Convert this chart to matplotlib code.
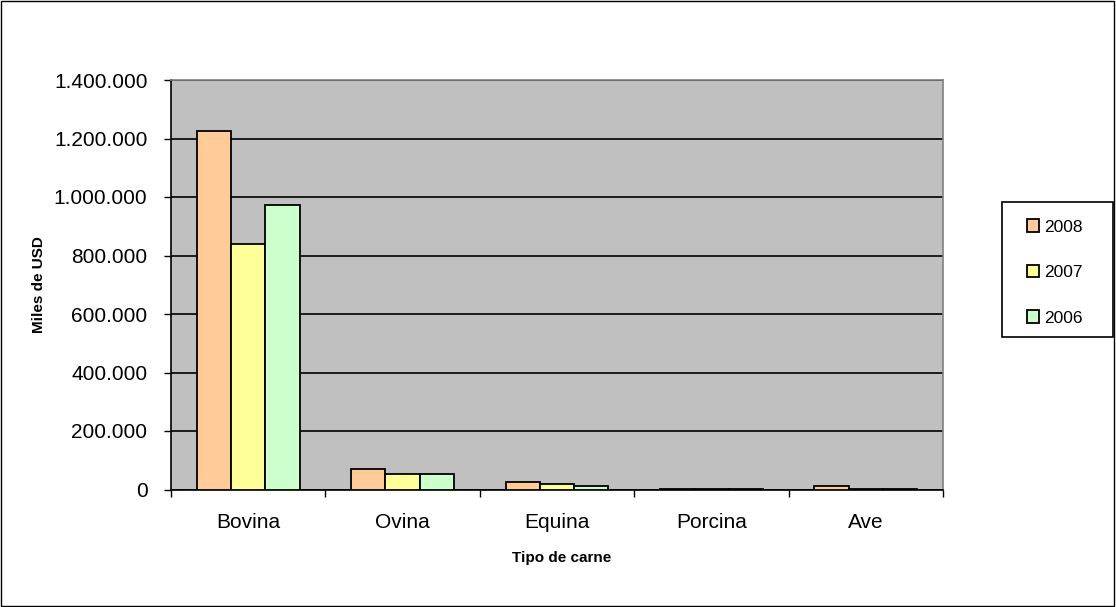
import matplotlib
matplotlib.use("Agg")
import matplotlib.pyplot as plt
import numpy as np
from matplotlib.ticker import FuncFormatter
from matplotlib.patches import Rectangle

plt.rcParams['font.family'] = ['Liberation Sans', 'DejaVu Sans']

categories = ["Bovina", "Ovina", "Equina", "Porcina", "Ave"]
series_names = ["2008", "2007", "2006"]
v2008 = [1226000, 70000, 26000, 3000, 13000]
v2007 = [838000, 53000, 19000, 2500, 2500]
v2006 = [972000, 53000, 13500, 2500, 2500]
colors = ["#FFCC99", "#FFFF99", "#CCFFCC"]

W, H = 1116, 607
fig = plt.figure(figsize=(W / 100, H / 100), dpi=100)
fig.patch.set_facecolor("white")
# outer chart border
fig.add_artist(Rectangle((0.001, 0.002), 0.997, 0.996, transform=fig.transFigure,
                         fill=False, edgecolor="black", linewidth=1.0))

x0, x1, ytop, ybot = 171, 943, 80, 489.5
ax = fig.add_axes([x0 / W, 1 - ybot / H, (x1 - x0) / W, (ybot - ytop) / H])
ax.set_facecolor("#C0C0C0")

x = np.arange(len(categories))
width = (1 / 1.5) / 3
for i, (vals, c, name) in enumerate(zip([v2008, v2007, v2006], colors, series_names)):
    ax.bar(x + (i - 1) * width, vals, width, color=c, edgecolor="black",
           linewidth=1.3, label=name, zorder=3)

ax.set_xlim(-0.5, len(categories) - 0.5)
ax.set_ylim(0, 1400000)
ax.set_yticks(np.arange(0, 1400001, 200000))
ax.yaxis.set_major_formatter(FuncFormatter(lambda v, p: f"{int(v):,}".replace(",", ".")))
ax.yaxis.grid(True, color="black", linewidth=1.2, zorder=1)
ax.set_axisbelow(True)

ax.set_xticks(x)
ax.set_xticklabels(categories)
ax.set_xticks(np.arange(-0.5, len(categories), 1), minor=True)
ax.tick_params(axis="x", which="major", length=0, labelsize=15, pad=17)
ax.tick_params(axis="x", which="minor", length=5, width=1, direction="out")
ax.tick_params(axis="y", length=5, width=1, labelsize=15, pad=12)

for s in ["left", "bottom"]:
    ax.spines[s].set_color("black")
    ax.spines[s].set_linewidth(1.2)
for s in ["top", "right"]:
    ax.spines[s].set_color("#808080")
    ax.spines[s].set_linewidth(1.2)

ax.set_ylabel("Miles de USD", fontsize=11, fontweight="bold")
ax.set_xlabel("Tipo de carne", fontsize=11, fontweight="bold")
ax.yaxis.label.set_va("center")
ax.xaxis.label.set_va("center")
ax.yaxis.set_label_coords((39 - x0) / (x1 - x0), 0.5 + ((ybot + ytop) / 2 - 285) / (ybot - ytop))
ax.xaxis.set_label_coords(0.5 + (562 - (x0 + x1) / 2) / (x1 - x0), (ybot - 558) / (ybot - ytop))

# legend box drawn separately so its size can be set directly
lx0, lx1, ly0, ly1 = 1002, 1113, 202, 337
fig.add_artist(Rectangle((lx0 / W, 1 - ly1 / H), (lx1 - lx0) / W, (ly1 - ly0) / H,
                         transform=fig.transFigure, fill=False, edgecolor="black",
                         linewidth=1.2))
leg = fig.legend(loc="center", bbox_to_anchor=(1055 / W, 1 - 272.5 / H),
                 frameon=False, fontsize=12.5,
                 handlelength=0.7, handleheight=0.7, handletextpad=0.3,
                 labelspacing=1.75, borderpad=0, borderaxespad=0)

fig.savefig("out.png", dpi=100, facecolor="white")
